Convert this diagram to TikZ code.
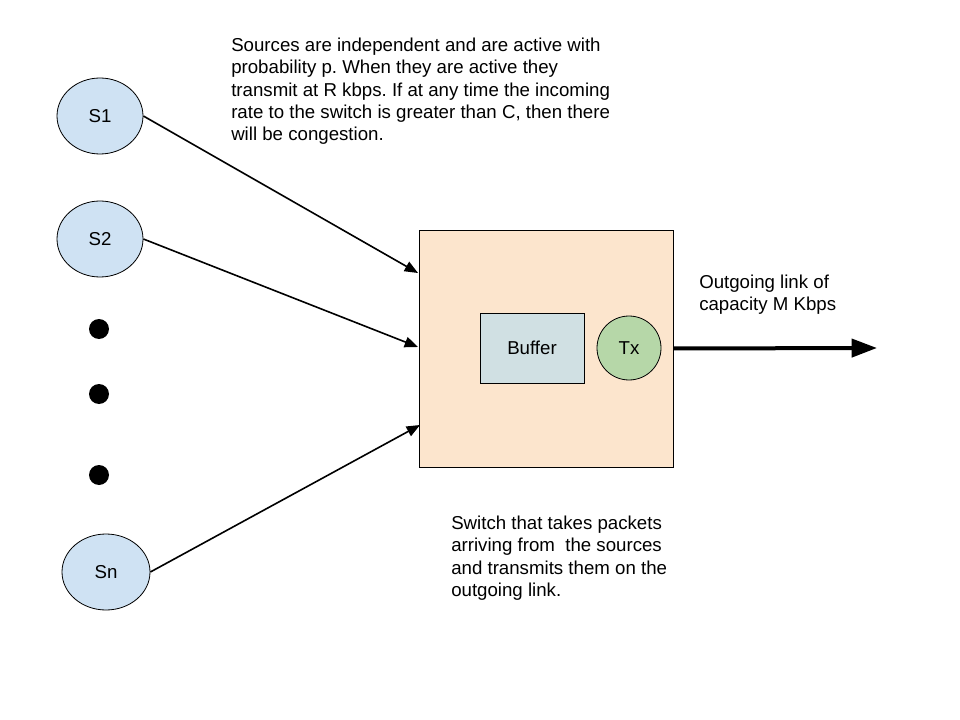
\documentclass[tikz,border=0pt]{standalone}
\usepackage{fontspec}
\setmainfont{Liberation Sans}
\frenchspacing
\usetikzlibrary{shapes.geometric,arrows.meta}
\definecolor{srcblue}{HTML}{CFE2F3}
\definecolor{swpeach}{HTML}{FCE5CD}
\definecolor{bufgray}{HTML}{D0E0E3}
\definecolor{txgreen}{HTML}{B6D7A8}
\tikzset{
  src/.style={ellipse, draw=black, line width=0.6pt, fill=srcblue, minimum width=64.5pt, minimum height=57pt, inner sep=0pt, font=\fontsize{14}{16}\selectfont},
  dotnode/.style={circle, fill=black, minimum size=15pt, inner sep=0pt},
  switchbox/.style={rectangle, draw=black, line width=0.6pt, fill=swpeach, minimum width=190.5pt, minimum height=177.75pt, inner sep=0pt},
  bufbox/.style={rectangle, draw=black, line width=0.6pt, fill=bufgray, minimum width=78pt, minimum height=52.5pt, inner sep=0pt, font=\fontsize{14}{16}\selectfont},
  txnode/.style={circle, draw=black, line width=0.6pt, fill=txgreen, minimum size=48pt, inner sep=0pt, font=\fontsize{14}{16}\selectfont},
  inarrow/.style={line width=1.2pt, -{Triangle[length=10pt, width=8pt]}},
  outarrow/.style={line width=3pt, -{Triangle[length=19pt, width=13.5pt]}},
  note/.style={anchor=north west, inner sep=0pt, align=left, font=\fontsize{14}{16.6}\selectfont},
}
\begin{document}
\begin{tikzpicture}[x=0.75pt, y=-0.75pt]
\useasboundingbox (0,0) rectangle (960,720);
\fill[white] (0,0) rectangle (960,720);

\node[src] (s1) at (100,116) {S1};
\node[src] (s2) at (100,239) {S2};
\node[dotnode] (d1) at (99,329) {};
\node[dotnode] (d2) at (99,394) {};
\node[dotnode] (d3) at (99,475) {};
\node[src, minimum width=66pt] (sn) at (106,572) {Sn};

\node[switchbox] (sw) at (546,348.5) {};
\node[bufbox] (buf) at (532,348) {Buffer};
\node[txnode] (tx) at (629,348) {Tx};

\coordinate (in1) at (418,273);
\coordinate (in2) at (418,347);
\coordinate (in3) at (420,425);
\coordinate (out) at (877,348);

\draw[inarrow] (s1.east) -- (in1);
\draw[inarrow] (s2.east) -- (in2);
\draw[inarrow] (sn.east) -- (in3);
\draw[outarrow] (sw.east) -- (out);

\node[note] (t1) at (231,38) {Sources are independent and are active with\\probability p. When they are active they\\transmit at R kbps. If at any time the incoming\\rate to the switch is greater than C, then there\\will be congestion.};
\node[note] (t2) at (699,275) {Outgoing link of\\capacity M Kbps};
\node[note] (t3) at (451,516) {Switch that takes packets\\arriving from\ \ the sources\\and transmits them on the\\outgoing link.};
\end{tikzpicture}
\end{document}
